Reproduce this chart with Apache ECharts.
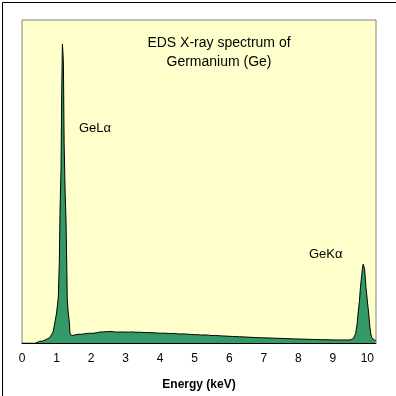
<!DOCTYPE html>
<html>
<head>
<meta charset="utf-8">
<script src="https://cdn.jsdelivr.net/npm/echarts@6/dist/echarts.min.js"></script>
<style>
html,body{margin:0;padding:0;background:#fff;}
#c{width:396px;height:396px;}
</style>
</head>
<body>
<div id="c"></div>
<script>
// Energy (keV) and counts
const energy = [
  0.40,0.44,0.50,0.55,0.60,0.65,0.70,0.75,0.80,0.85,0.90,0.95,1.00,1.05,1.08,1.10,1.13,1.15,1.17,1.18,1.19,1.20,1.22,1.25,1.275,1.30,1.31,1.34,1.37,1.39,1.42,
  1.45,1.50,1.55,1.60,1.65,1.70,1.75,1.80,1.85,1.90,1.95,2.00,2.05,2.10,2.15,2.20,2.25,2.30,2.35,2.40,2.45,2.50,2.55,2.60,2.65,2.70,2.75,2.80,2.85,2.90,2.95,3.00,
  3.10,3.20,3.30,3.40,3.50,3.60,3.70,3.80,3.90,4.00,4.10,4.20,4.30,4.40,4.50,4.60,4.70,4.80,4.90,5.00,5.10,5.20,5.30,5.40,5.50,5.60,5.70,5.80,5.90,6.00,
  6.10,6.20,6.30,6.40,6.50,6.60,6.70,6.80,6.90,7.00,7.10,7.20,7.30,7.40,7.50,7.60,7.70,7.80,7.90,8.00,8.10,8.20,8.30,8.40,8.50,8.60,8.70,8.80,8.90,9.00,
  9.10,9.20,9.30,9.40,9.50,9.55,9.60,9.63,9.66,9.70,9.73,9.77,9.80,9.84,9.86,9.88,9.90,9.92,9.96,10.00,10.04,10.07,10.10,10.13,10.16,10.20,10.25
];
const counts = [
  0,15,16,18,20,26,35,40,52,70,110,200,300,450,800,1300,1750,2520,3000,3000,2880,2770,2000,1500,1220,700,440,300,210,90,72,
  75,78,82,85,88,90,88,92,95,93,98,100,97,104,102,106,110,108,111,112,114,112,115,110,113,112,109,113,111,114,110,111,
  109,111,107,108,106,105,104,103,100,98,99,97,95,96,92,90,91,88,86,84,83,80,81,78,75,76,73,71,70,67,
  66,64,63,61,60,57,56,54,53,52,51,50,48,47,46,45,44,42,41,40,39,38,37,36,35,34,33,33,32,31,
  31,30,31,30,31,35,45,70,95,180,290,420,560,690,760,790,770,740,560,420,290,170,90,55,40,30,22
];
const xTicks = [0,1,2,3,4,5,6,7,8,9,10];
const titleLines = ["EDS X-ray spectrum of", "Germanium (Ge)"];
const peakLabels = ["GeL\u03b1", "GeK\u03b1"];
const xName = "Energy (keV)";

const data = energy.map((e, i) => [e, counts[i]]);
const chart = echarts.init(document.getElementById('c'), null, {renderer: 'canvas'});
const font = 'Liberation Sans, Arial, sans-serif';
chart.setOption({
  animation: false,
  backgroundColor: '#ffffff',
  grid: {left: 22, right: 20, top: 20, bottom: 52, show: true, backgroundColor: '#FFFFCC', borderColor: '#808080', borderWidth: 1},
  xAxis: {
    type: 'value', min: 0, max: 10.25, interval: 1,
    axisLine: {show: true, lineStyle: {color: '#000', width: 1}},
    axisTick: {show: false},
    splitLine: {show: false},
    axisLabel: {color: '#000', fontFamily: font, fontSize: 12, margin: 10,
      formatter: v => xTicks.indexOf(v) >= 0 ? String(v) : '', showMaxLabel: false},
    name: xName, nameLocation: 'middle', nameGap: 36,
    nameTextStyle: {color: '#000', fontFamily: font, fontSize: 12, fontWeight: 'bold'}
  },
  yAxis: {
    type: 'value', min: 0, max: 3240, show: false, splitLine: {show: false}
  },
  graphic: [
    {type: 'rect', left: 0, top: 0, shape: {x: 0.5, y: 0.5, width: 395, height: 395}, style: {fill: 'none', stroke: '#000', lineWidth: 1}, silent: true},
    {type: 'text', x: 219, y: 43, style: {text: titleLines[0], fill: '#000', font: '14px ' + font, textAlign: 'center', textVerticalAlign: 'middle'}},
    {type: 'text', x: 219, y: 62, style: {text: titleLines[1], fill: '#000', font: '14px ' + font, textAlign: 'center', textVerticalAlign: 'middle'}},
    {type: 'text', x: 79, y: 128, style: {text: peakLabels[0], fill: '#000', font: '13px ' + font, textAlign: 'left', textVerticalAlign: 'middle'}},
    {type: 'text', x: 309, y: 254, style: {text: peakLabels[1], fill: '#000', font: '13px ' + font, textAlign: 'left', textVerticalAlign: 'middle'}}
  ],
  series: [{
    type: 'line', data: data, showSymbol: false, symbol: 'none',
    lineStyle: {color: '#000', width: 1},
    areaStyle: {color: '#339966', opacity: 1},
    z: 2
  }]
});
</script>
</body>
</html>
